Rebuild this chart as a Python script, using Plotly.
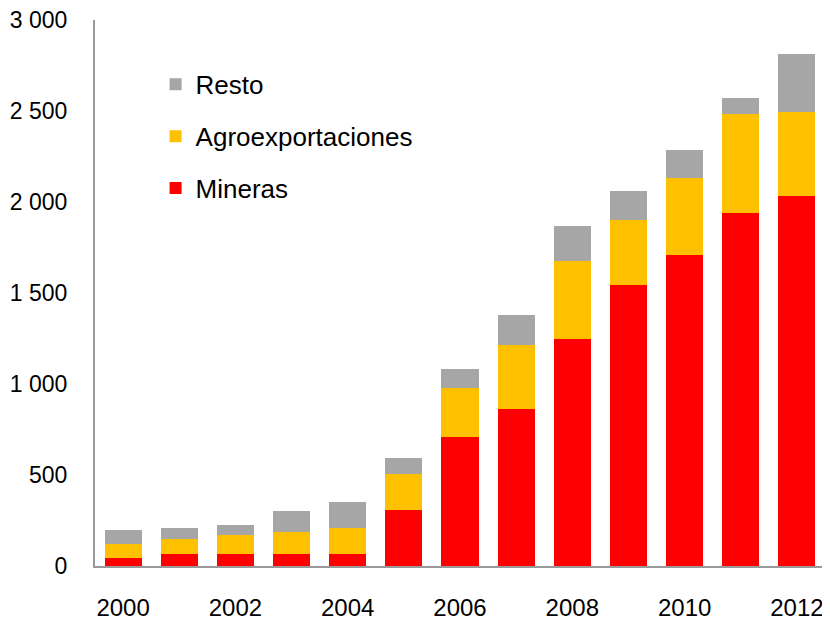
import plotly.graph_objects as go

years = [2000, 2001, 2002, 2003, 2004, 2005, 2006, 2007, 2008, 2009, 2010, 2011, 2012]
mineras = [44, 68, 68, 68, 68, 310, 711, 864, 1249, 1544, 1711, 1942, 2033]
agro = [77, 78, 104, 117, 143, 197, 269, 348, 425, 358, 422, 539, 462]
resto = [77, 65, 51, 115, 141, 88, 102, 165, 192, 157, 155, 91, 319]

y_tickvals = [0, 500, 1000, 1500, 2000, 2500, 3000]
y_ticktext = ["0", "500", "1 000", "1 500", "2 000", "2 500", "3 000"]
x_tickvals = [2000, 2002, 2004, 2006, 2008, 2010, 2012]
x_ticktext = ["2000", "2002", "2004", "2006", "2008", "2010", "2012"]

FONT = "Liberation Sans, Arial, sans-serif"

fig = go.Figure()
fig.add_trace(go.Bar(x=years, y=mineras, name="Mineras", marker_color="#FF0000",
                     marker_line_width=0, legendgroup="m", legendrank=3))
fig.add_trace(go.Bar(x=years, y=agro, name="Agroexportaciones", marker_color="#FFC000",
                     marker_line_width=0, legendgroup="a", legendrank=2))
fig.add_trace(go.Bar(x=years, y=resto, name="Resto", marker_color="#A6A6A6",
                     marker_line_width=0, legendgroup="r", legendrank=1))

# the page body adds an 8px offset, so the figure is 8px smaller than the window
fig.update_layout(
    width=822, height=615,
    margin=dict(l=87, r=5, t=12, b=57),
    barmode="stack",
    bargap=0.34,
    paper_bgcolor="white",
    plot_bgcolor="white",
    font=dict(family=FONT, size=25, color="#000000"),
    showlegend=True,
    legend=dict(
        x=0.083, y=0.925, xanchor="left", yanchor="top",
        traceorder="grouped",
        tracegroupgap=15,
        bgcolor="rgba(0,0,0,0)",
        font=dict(family=FONT, size=26, color="#000000"),
    ),
    xaxis=dict(
        range=[1999.5, 2012.5],
        tickvals=x_tickvals, ticktext=x_ticktext,
        showgrid=False, zeroline=False,
        showline=True, linecolor="#999999", linewidth=2,
        ticks="", ticklabelstandoff=19, automargin=False,
        ticklabeloverflow="allow",
        tickfont=dict(family=FONT, size=24),
    ),
    yaxis=dict(
        range=[0, 3000],
        tickvals=y_tickvals, ticktext=y_ticktext,
        showgrid=False, zeroline=False,
        showline=True, linecolor="#999999", linewidth=2,
        ticks="", ticklabelstandoff=21, automargin=False,
        ticklabeloverflow="allow",
        tickfont=dict(family=FONT, size=23),
    ),
)

fig.write_html("out.html")
